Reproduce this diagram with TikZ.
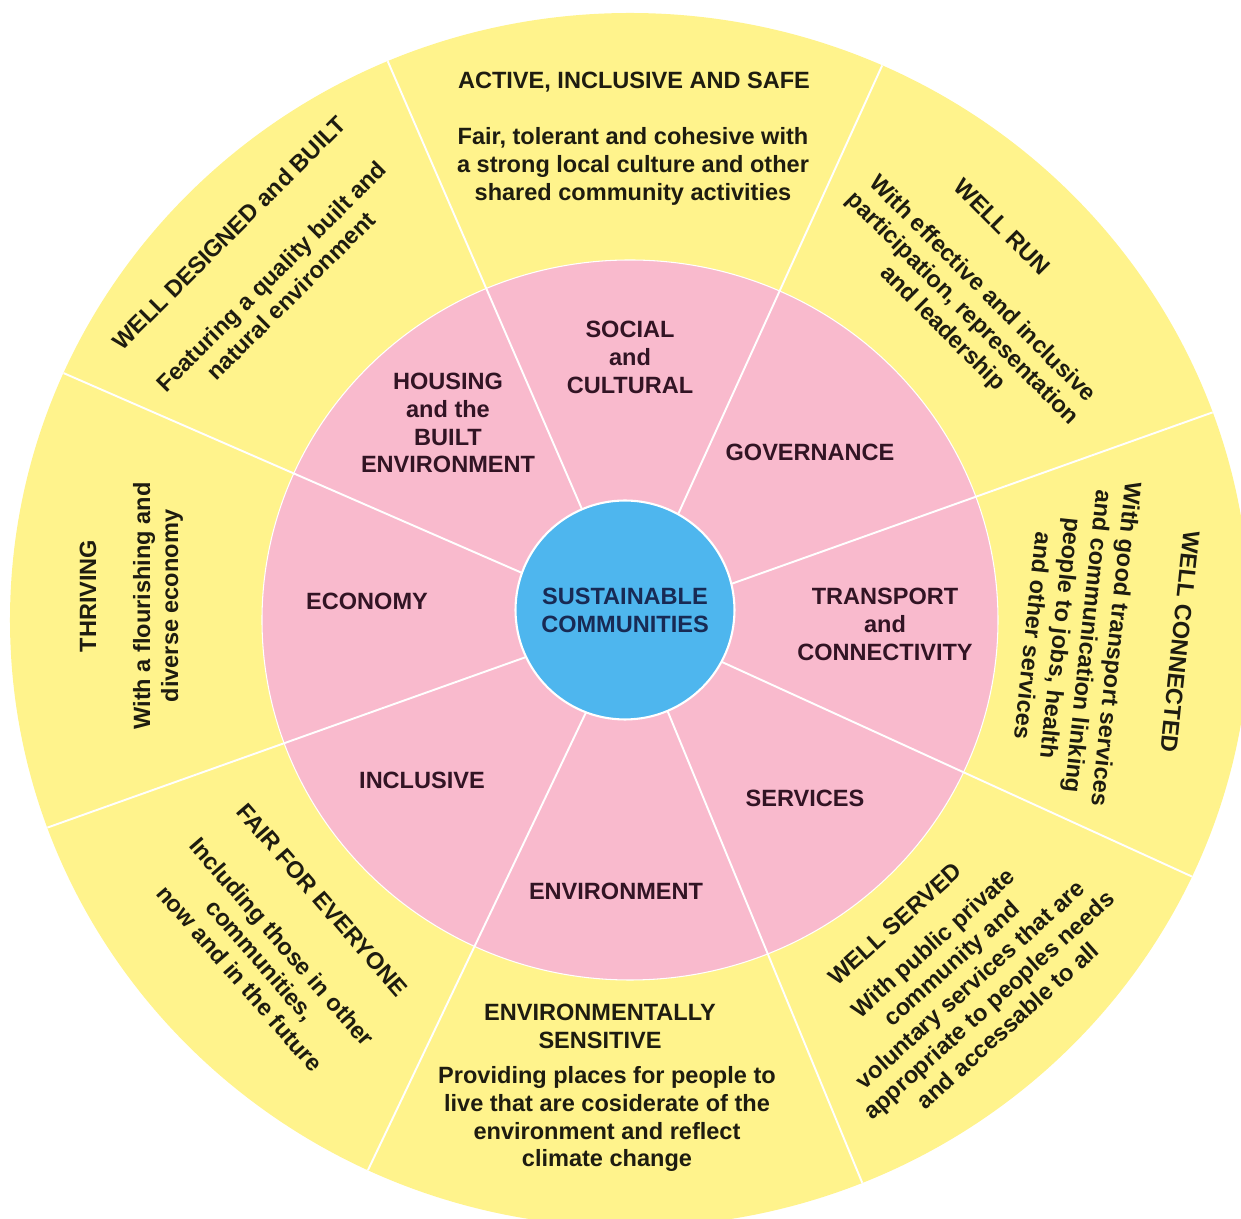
\documentclass[tikz,border=0pt]{standalone}
\usepackage{fontspec}
\setmainfont{Liberation Sans}
\usepackage{tikz}
\usepackage{color}
\definecolor{ringYellow}{RGB}{255,243,140}
\definecolor{ringPink}{RGB}{249,186,205}
\definecolor{hubBlue}{RGB}{78,182,238}
\definecolor{pinkText}{RGB}{50,20,36}
\definecolor{hubText}{RGB}{24,42,84}
\definecolor{ringText}{RGB}{30,28,16}

\begin{document}
\begin{tikzpicture}[x=0.02cm, y=0.02cm, font=\fontsize{13.4}{15.9}\selectfont\bfseries]
	\useasboundingbox (-630,-599) rectangle (611,620);
	\clip (-630,-599) rectangle (611,620);

	\fill [ringYellow] (0,0) ellipse [x radius=620, y radius=607];
	\filldraw [fill=ringPink, draw=white, line width=0.6pt] (0,0) ellipse [x radius=368, y radius=360];
	\foreach \a in {20,66,113,156,200,245,292,335}
		\draw [white, line width=1.1pt] (0,0) -- (\a:620 and 607);

	\node (hub) at (-5,10) [circle, fill=hubBlue, draw=white, line width=1.2pt, minimum size=4.38cm, text=hubText, align=center] {SUSTAINABLE\\COMMUNITIES};

	\begin{scope}[every node/.style={text=pinkText, align=center}]
		\node (social) at (0,263) {SOCIAL\\and\\CULTURAL};
		\node (housing) at (-182,197) {HOUSING\\and the\\BUILT\\ENVIRONMENT};
		\node (governance) at (180,168) {GOVERNANCE};
		\node (transport) at (255,-4) {TRANSPORT\\and\\CONNECTIVITY};
		\node (economy) at (-263,19) {ECONOMY};
		\node (inclusive) at (-208,-160) {INCLUSIVE};
		\node (services) at (175,-178) {SERVICES};
		\node (environment) at (-14,-271) {ENVIRONMENT};
	\end{scope}

	\begin{scope}[every node/.style={text=ringText, align=center}]
		\node (active) at (4,538) {ACTIVE, INCLUSIVE AND SAFE};
		\node (activeTxt) at (3,454) {Fair, tolerant and cohesive with\\a strong local culture and other\\shared community activities};

		\node (designed) at (-401,387) [rotate=45] {WELL DESIGNED and BUILT};
		\node (designedTxt) at (-349,334) [rotate=45] {Featuring a quality built and\\natural environment};

		\node (run) at (372,393) [rotate=-45] {WELL RUN};
		\node (runTxt) at (332,311) [rotate=-45] {With effective and inclusive\\participation, representation\\and leadership};

		\node (connected) at (550,-22) [rotate=-96] {WELL CONNECTED};
		\node (connectedTxt) at (445,-20) [rotate=-96] {With good transport services\\and communication linking\\people to jobs, health\\and other services};

		\node (served) at (265,-304) [rotate=42] {WELL SERVED};
		\node (servedTxt) at (340,-364) [rotate=42] {With public private\\community and\\voluntary services that are\\appropriate to peoples needs\\and accessable to all};

		\node (sensitive) at (-30,-406) {ENVIRONMENTALLY\\SENSITIVE};
		\node (sensitiveTxt) at (-23,-499) {Providing places for people to\\live that are cosiderate of the\\environment and reflect\\climate change};

		\node (fair) at (-308,-280) [rotate=-49] {FAIR FOR EVERYONE};
		\node (fairTxt) at (-369,-340) [rotate=-49] {Including those in other\\communities,\\now and in the future};

		\node (thriving) at (-542,24) [rotate=90] {THRIVING};
		\node (thrivingTxt) at (-472,14) [rotate=90] {With a flourishing and\\diverse economy};
	\end{scope}
\end{tikzpicture}
\end{document}
